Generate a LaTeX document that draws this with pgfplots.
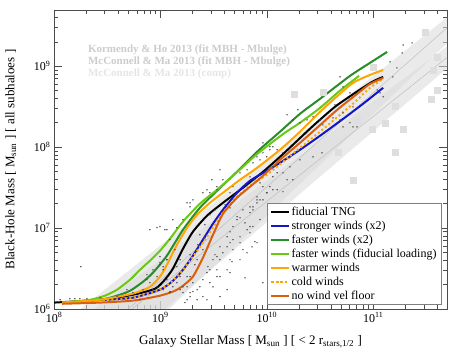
\documentclass[border=0pt]{standalone}
\usepackage{fontspec}
\setmainfont{Liberation Serif}
\usepackage{pgfplots}
\pgfplotsset{compat=1.18}
\definecolor{cblue}{RGB}{20,20,200}
\definecolor{dgreen}{RGB}{40,140,40}
\definecolor{lgreen}{RGB}{105,200,20}
\definecolor{corange}{RGB}{255,165,0}
\definecolor{cbrown}{RGB}{217,95,14}
\begin{document}
\begin{tikzpicture}
\begin{axis}[
    scale only axis, width=393pt, height=299pt,
    xmode=log, ymode=log, log basis x=10, log basis y=10,
    xmin=1e8, xmax=4.94e11, ymin=1e6, ymax=4.95e9,
    xticklabel={10\textsuperscript{\pgfmathparse{int(round(\tick))}\pgfmathresult}},
    yticklabel={10\textsuperscript{\pgfmathparse{int(round(\tick))}\pgfmathresult}},
    tick align=inside, major tick length=8pt, minor tick length=4pt,
    every tick/.style={black!70, line width=0.6pt},
    axis line style={black!70, line width=0.8pt},
    tick label style={font=\fontsize{12}{14}\selectfont},
    label style={font=\fontsize{13}{15}\selectfont},
    xlabel={Galaxy Stellar Mass [ M\textsubscript{sun} ] [ < 2 r\textsubscript{stars,1/2} ]},
    ylabel={Black-Hole Mass [ M\textsubscript{sun} ] [ all subhaloes ]},
    xlabel style={at={(axis description cs:0.5,-0.078)}, anchor=north},
    ylabel style={at={(axis description cs:-0.087,0.5)}, anchor=south},
    legend style={at={(rel axis cs:0.987,0.355)}, anchor=north east,
        draw=black!50, line width=0.8pt, fill=white,
        font=\fontsize{12}{13}\selectfont, row sep=0pt},
    legend cell align=left,
]
% observational relations: Kormendy & Ho 2013, McConnell & Ma 2013
\addplot[forget plot, draw=none, fill=black!15, fill opacity=0.55] coordinates {
    (1e8,5.50e5) (5.01e11,4.07e9) (5.01e11,1.95e9) (1e8,4.37e4)} -- cycle;
\addplot[forget plot, draw=none, fill=black!15, fill opacity=0.55] coordinates {
    (1e8,4.27e5) (5.01e11,1.78e9) (5.01e11,9.55e8) (1e8,6.76e4)} -- cycle;
\addplot[forget plot, black!25, line width=0.5pt] coordinates {(1e8,1.55e5) (5.01e11,3.03e9)};
\addplot[forget plot, black!25, line width=0.5pt] coordinates {(1e8,1.70e5) (5.01e11,1.30e9)};
\addplot[forget plot, only marks, mark=square*, mark size=3pt, black!13] coordinates {
    (1.80e10,4.55e8) (3.37e10,4.82e8) (3.07e11,2.65e9) (3.98e11,1.30e9)
    (3.65e11,9.0e8) (9.95e10,9.8e8) (3.98e11,5.09e8) (3.49e11,3.95e8)
    (1.60e11,3.24e8) (1.29e11,2.00e8) (7.05e10,2.17e8) (9.75e10,1.68e8)
    (1.91e11,1.68e8) (4.67e10,8.75e7) (1.60e11,8.75e7) (6.46e10,3.95e7)};
\node[anchor=west, inner sep=0pt, font=\bfseries\fontsize{11}{12}\selectfont, text=black!20] at (rel axis cs:0.086,0.866) {Kormendy \& Ho 2013 (fit MBH - Mbulge)};
\node[anchor=west, inner sep=0pt, font=\bfseries\fontsize{11}{12}\selectfont, text=black!20] at (rel axis cs:0.086,0.826) {McConnell \& Ma 2013 (fit MBH - Mbulge)};
\node[anchor=west, inner sep=0pt, font=\bfseries\fontsize{11}{12}\selectfont, text=black!10] at (rel axis cs:0.086,0.786) {McConnell \& Ma 2013 (comp)};
% individual subhaloes, fiducial TNG
\addplot[forget plot, only marks, mark=*, mark size=0.45pt, black!75] coordinates {
    (1.14e8,1.30e6) (1.41e8,1.34e6) (1.57e8,1.34e6) (1.75e8,1.34e6) (2.04e8,1.34e6)
    (1.79e8,3.33e6) (2.71e8,1.38e6) (3.91e8,1.42e6) (4.85e8,1.73e6) (5.52e8,1.59e6)
    (6.43e8,1.30e6) (6.86e8,1.73e6) (7.48e8,2.30e6) (7.98e8,2.11e6) (9.29e8,2.51e6)
    (9.91e8,3.73e6) (1.06e9,3.05e6) (1.15e9,2.30e6) (1.23e9,1.59e6) (8.51e8,1.73e6)
    (1.43e9,2.11e6) (1.53e9,2.51e6) (1.63e9,1.88e6) (1.78e9,1.30e6) (1.90e9,1.59e6)
    (2.02e9,2.11e6) (2.21e9,1.73e6) (1.70e9,1.20e6) (1.43e9,1.01e7) (1.63e9,1.27e7)
    (1.78e9,2.05e7) (2.51e9,2.73e7) (2.74e9,2.97e7) (4.51e9,1.78e7) (9.29e8,1.01e7)
    (1.10e9,9.53e6) (1.23e9,7.18e6) (9.91e8,4.43e6) (1.15e9,4.06e6) (1.43e9,3.33e6)
    (1.63e9,3.05e6) (1.78e9,2.51e6) (2.21e9,4.06e6) (2.51e9,5.40e6) (2.80e9,3.33e6)
    (3.26e9,4.68e6) (3.63e9,5.87e6) (4.23e9,7.81e6) (4.51e9,9.00e6) (4.81e9,1.04e7)
    (5.25e9,1.27e7) (5.60e9,1.34e7) (6.24e9,1.16e7) (6.95e9,1.55e7) (7.41e9,1.68e7)
    (8.09e9,2.05e7) (8.63e9,2.23e7) (1.00e10,2.73e7) (1.14e10,2.97e7) (4.51e9,4.06e6)
    (4.81e9,5.40e6) (5.60e9,6.59e6) (3.40e9,2.51e6) (2.92e9,2.11e6) (4.23e9,1.73e6)
    (6.95e9,8.75e6) (5.97e9,5.40e6) (3.63e9,5.25e7) (3.05e9,3.95e7) (1.90e9,1.83e7)
    (2.02e9,2.23e7) (3.40e9,2.97e7) (4.81e9,3.24e7) (5.60e9,4.82e7) (6.52e9,5.25e7)
    (6.95e9,4.30e7) (7.41e9,6.40e7) (8.09e9,7.59e7) (8.63e9,6.97e7) (9.20e9,8.51e7)
    (1.00e10,7.59e7) (1.07e10,9.27e7) (1.14e10,1.01e8) (9.20e9,3.24e7) (8.09e9,2.43e7)
    (1.14e10,4.30e7) (1.25e10,4.82e7) (1.55e10,2.51e8) (1.76e10,2.17e8) (2.05e10,2.00e8)
    (2.39e10,2.17e8) (2.72e10,2.37e8) (9.20e9,1.13e8) (1.07e10,1.01e8) (1.25e10,9.27e7)
    (1.42e10,8.51e7) (1.65e10,7.38e7) (1.14e10,5.71e7) (1.42e10,4.82e7) (1.76e10,3.95e7)
    (8.63e9,3.62e7) (1.25e10,2.97e7) (1.42e10,2.81e7) (9.20e9,2.23e7) (7.41e9,1.83e7)
    (6.95e9,1.04e7) (8.09e9,6.59e6) (7.26e9,5.87e6) (3.37e10,1.88e8) (4.19e10,2.30e8)
    (5.20e10,2.65e8) (6.46e10,3.15e8) (6.46e10,1.78e8) (1.91e11,1.83e9) (2.32e11,1.94e9)
    (1.44e11,1.13e9) (1.67e11,9.53e8) (1.53e11,7.38e8) (1.87e11,1.46e9) (4.88e10,7.38e8)
    (1.96e10,2.89e8) (3.16e10,2.17e8) (5.20e10,1.78e8) (6.05e10,2.00e8) (7.05e10,1.78e8)
    (1.09e11,5.09e8) (1.16e11,4.68e8) (1.24e11,4.18e8) (3.30e10,8.51e7) (2.72e10,7.59e7)
    (2.05e10,6.97e7) (1.65e10,5.71e7) (1.55e10,3.95e7) (1.07e10,3.24e7) (5.20e10,5.55e8)
    (6.05e10,4.68e8) (4.37e10,3.33e8) (4.88e10,2.17e8) (2.35e9,8.26e6) (2.62e9,1.10e7)
    (2.92e9,1.46e7) (3.26e9,1.68e7) (4.05e9,1.94e7) (5.02e9,2.58e7) (6.24e9,3.43e7)
    (7.74e9,3.95e7) (2.25e9,6.22e6) (2.62e9,7.59e6) (1.90e9,4.68e6) (2.11e9,3.52e6)
    (1.53e9,4.06e6) (1.37e9,5.40e6) (9.20e9,2.11e6) (6.24e9,2.43e6) (7.74e9,6.78e6)
    (4.71e9,3.84e6) (7.48e8,2.65e6) (8.51e8,3.05e6) (9.91e8,3.52e6) (1.06e9,3.33e6)
    (1.15e9,4.06e6) (9.29e8,1.88e6) (1.06e9,1.73e6) (1.23e9,1.64e6) (1.31e9,1.88e6)
    (1.53e9,1.73e6) (1.63e9,1.59e6) (1.78e9,1.88e6) (1.90e9,2.51e6) (1.90e9,1.42e6)
    (2.02e9,1.64e6) (2.21e9,1.30e6) (2.35e9,1.88e6) (2.51e9,2.30e6) (2.74e9,2.81e6)
    (2.92e9,3.05e6) (3.12e9,4.06e6) (3.40e9,4.43e6) (3.63e9,4.06e6) (3.87e9,4.95e6)
    (4.23e9,5.87e6) (4.51e9,6.59e6) (4.81e9,7.18e6) (3.40e9,3.05e6) (3.63e9,2.51e6)
    (2.51e9,1.42e6) (2.74e9,1.30e6) (4.23e9,3.05e6) (4.51e9,2.81e6) (3.12e9,1.88e6)
    (5.60e9,7.81e6) (6.52e9,9.53e6) (7.41e9,1.04e7) (8.63e9,1.27e7) (5.25e9,1.38e7)
    (5.97e9,1.68e7) (6.95e9,1.83e7) (8.09e9,2.23e7) (1.00e10,2.73e7) (5.60e9,4.06e6)
    (6.52e9,4.95e6) (3.63e9,1.42e6) (1.90e9,2.05e7) (2.92e9,2.73e7) (3.40e9,3.24e7)
    (9.91e8,1.04e7) (7.98e8,9.53e6) (1.15e9,9.53e6) (3.87e9,3.95e7) (4.51e9,2.73e7)
    (1.31e9,1.27e7)};
% median relations of the model variations
\addplot[black, line width=2pt, smooth, tension=0.4] coordinates {
    (1.00e8,1.20e6) (2.71e8,1.30e6) (5.52e8,1.50e6) (8.89e8,1.78e6) (1.10e9,2.30e6)
    (1.31e9,3.15e6) (1.63e9,5.55e6) (2.02e9,9.00e6) (2.74e9,1.42e7) (3.87e9,2.05e7)
    (5.97e9,3.15e7) (9.20e9,4.95e7) (1.33e10,7.59e7) (1.84e10,1.13e8) (2.72e10,1.83e8)
    (4.37e10,3.15e8) (6.75e10,4.68e8) (9.75e10,6.40e8) (1.24e11,7.38e8)};
\addlegendentry{fiducial TNG}
\addplot[cblue, line width=2pt, smooth, tension=0.4] coordinates {
    (3.01e8,1.30e6) (5.52e8,1.38e6) (9.91e8,1.73e6) (1.31e9,2.23e6) (1.63e9,3.05e6)
    (2.02e9,4.55e6) (2.51e9,7.18e6) (3.12e9,1.13e7) (3.87e9,1.68e7) (5.25e9,2.73e7)
    (6.95e9,3.84e7) (1.00e10,5.10e7) (1.33e10,6.40e7) (2.05e10,9.27e7) (3.16e10,1.38e8)
    (5.20e10,2.23e8) (8.02e10,3.43e8) (1.24e11,5.41e8)};
\addlegendentry{stronger winds (x2)}
\addplot[dgreen, line width=2pt, smooth, tension=0.4] coordinates {
    (1.19e8,1.20e6) (2.71e8,1.30e6) (3.91e8,1.46e6) (5.18e8,1.68e6) (6.86e8,2.17e6)
    (8.51e8,2.81e6) (1.15e9,4.55e6) (1.63e9,9.53e6) (2.35e9,1.78e7) (3.40e9,2.88e7)
    (5.60e9,5.40e7) (8.09e9,8.75e7) (1.33e10,1.55e8) (2.05e10,2.58e8) (3.16e10,3.95e8)
    (6.05e10,7.59e8) (9.33e10,1.10e9) (1.35e11,1.50e9)};
\addlegendentry{faster winds (x2)}
\addplot[lgreen, line width=2pt, smooth, tension=0.4] coordinates {
    (1.19e8,1.20e6) (2.18e8,1.30e6) (3.01e8,1.46e6) (3.91e8,1.73e6) (5.18e8,2.30e6)
    (6.43e8,3.05e6) (7.98e8,3.95e6) (9.91e8,5.25e6) (1.23e9,7.38e6) (1.63e9,1.20e7)
    (2.35e9,2.00e7) (3.40e9,2.97e7) (5.25e9,4.90e7) (8.09e9,8.20e7) (1.42e10,1.45e8)
    (2.05e10,2.00e8) (3.16e10,3.05e8) (4.88e10,5.00e8) (7.36e10,7.60e8)};
\addlegendentry{faster winds (fiducial loading)}
\addplot[corange, line width=2pt, smooth, tension=0.4] coordinates {
    (1.19e8,1.20e6) (2.71e8,1.30e6) (5.52e8,1.55e6) (7.98e8,1.88e6) (9.91e8,2.51e6)
    (1.15e9,3.52e6) (1.43e9,6.22e6) (1.78e9,1.01e7) (2.21e9,1.46e7) (2.92e9,2.05e7)
    (3.87e9,2.73e7) (5.60e9,3.95e7) (8.09e9,5.55e7) (1.33e10,9.27e7) (2.05e10,1.55e8)
    (2.96e10,2.51e8) (4.19e10,3.84e8) (6.46e10,6.22e8) (9.33e10,7.80e8) (1.24e11,9.00e8)};
\addlegendentry{warmer winds}
\addplot[corange, line width=2pt, dash pattern=on 2pt off 2.5pt, smooth, tension=0.4] coordinates {
    (1.19e8,1.20e6) (2.71e8,1.27e6) (5.52e8,1.38e6) (9.91e8,1.73e6) (1.31e9,2.23e6)
    (1.63e9,3.05e6) (2.02e9,4.43e6) (2.51e9,6.59e6) (3.12e9,1.01e7) (3.87e9,1.55e7)
    (5.25e9,2.43e7) (6.95e9,3.33e7) (1.00e10,4.55e7) (1.42e10,6.59e7) (2.05e10,9.80e7)
    (3.16e10,1.55e8) (4.88e10,2.51e8) (6.75e10,3.62e8) (9.33e10,5.41e8) (1.24e11,6.97e8)};
\addlegendentry{cold winds}
\addplot[cbrown, line width=2pt, smooth, tension=0.4] coordinates {
    (1.19e8,1.16e6) (2.71e8,1.20e6) (5.52e8,1.27e6) (9.91e8,1.46e6) (1.37e9,1.68e6)
    (1.63e9,1.94e6) (2.02e9,2.51e6) (2.51e9,4.30e6) (3.12e9,8.26e6) (3.87e9,1.50e7)
    (5.25e9,2.37e7) (6.95e9,3.24e7) (9.20e9,4.43e7) (1.33e10,6.97e7) (2.05e10,1.13e8)
    (2.96e10,1.73e8) (4.57e10,2.88e8) (7.05e10,4.55e8) (9.33e10,6.04e8) (1.24e11,7.16e8)};
\addlegendentry{no wind vel floor}
\coordinate (O) at (rel axis cs:0,0);
\end{axis}
\pgfresetboundingbox
\path[use as bounding box] (O) ++(-54pt,-45pt) rectangle ++(458pt,354pt);
\end{tikzpicture}
\end{document}
